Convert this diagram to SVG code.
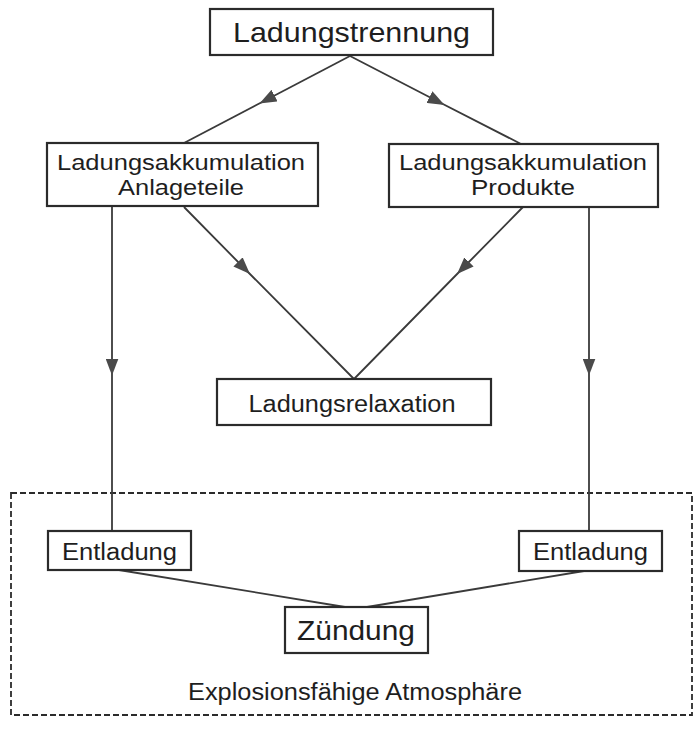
<svg xmlns="http://www.w3.org/2000/svg" width="694" height="730" viewBox="0 0 694 730">
<defs>
<style>
.box{fill:#fff;stroke:#2b2b2b;stroke-width:2.2}
.t{font-family:"Liberation Sans",Arial,sans-serif;fill:#1e1e1e;text-anchor:middle}
.ln{fill:none;stroke:#3a3a3a;stroke-width:1.8}
.dash{fill:none;stroke:#2b2b2b;stroke-width:1.8;stroke-dasharray:6 3}
</style>
<marker id="arr" markerUnits="userSpaceOnUse" viewBox="0 0 17 13" markerWidth="17" markerHeight="13" refX="8.5" refY="6.5" orient="auto">
<path d="M0,0 L17,6.5 L0,13 Z" fill="#4a4a4a"/>
</marker>
</defs>
<rect width="694" height="730" fill="#fff"/>
<rect id="zone" class="dash" x="11" y="493" width="681" height="222"/>
<g id="connectors">
<path class="ln" d="M350,56 L267,99.5 L184,143" marker-mid="url(#arr)"/>
<path class="ln" d="M350,56 L437,101 L521,144" marker-mid="url(#arr)"/>
<path class="ln" d="M112,207 L112,367 L112,531" marker-mid="url(#arr)"/>
<path class="ln" d="M589,207 L589,367 L589,531" marker-mid="url(#arr)"/>
<path class="ln" d="M184,207 L244,268 L354,379" marker-mid="url(#arr)"/>
<path class="ln" d="M523,207 L463,268 L354,379" marker-mid="url(#arr)"/>
<path class="ln" d="M119,570 L345,607"/>
<path class="ln" d="M584,571 L367,607"/>
</g>
<g id="n-trennung">
<rect class="box" x="210" y="9" width="283" height="46"/>
<text class="t" x="351.5" y="42" font-size="27.4" textLength="237" lengthAdjust="spacingAndGlyphs">Ladungstrennung</text>
</g>
<g id="n-anlageteile">
<rect class="box" x="47" y="143" width="271" height="63"/>
<text class="t" x="181" y="170" font-size="22.3" textLength="248" lengthAdjust="spacingAndGlyphs">Ladungsakkumulation</text>
<text class="t" x="181" y="195" font-size="22.3" textLength="126" lengthAdjust="spacingAndGlyphs">Anlageteile</text>
</g>
<g id="n-produkte">
<rect class="box" x="389" y="144" width="269" height="63"/>
<text class="t" x="523" y="170" font-size="22.3" textLength="248" lengthAdjust="spacingAndGlyphs">Ladungsakkumulation</text>
<text class="t" x="523" y="195" font-size="22.3" textLength="104" lengthAdjust="spacingAndGlyphs">Produkte</text>
</g>
<g id="n-relaxation">
<rect class="box" x="217" y="379" width="274" height="46"/>
<text class="t" x="352" y="412" font-size="23" textLength="207" lengthAdjust="spacingAndGlyphs">Ladungsrelaxation</text>
</g>
<g id="n-entladung-l">
<rect class="box" x="48" y="531" width="143" height="39"/>
<text class="t" x="119.5" y="560" font-size="23.5" textLength="115" lengthAdjust="spacingAndGlyphs">Entladung</text>
</g>
<g id="n-entladung-r">
<rect class="box" x="519" y="531" width="143" height="40"/>
<text class="t" x="590.5" y="560" font-size="23.5" textLength="115" lengthAdjust="spacingAndGlyphs">Entladung</text>
</g>
<g id="n-zuendung">
<rect class="box" x="285" y="607" width="143" height="46"/>
<text class="t" x="356" y="640" font-size="28" textLength="118" lengthAdjust="spacingAndGlyphs">Zündung</text>
</g>
<text id="zone-label" class="t" x="355" y="700" font-size="23.5" textLength="334" lengthAdjust="spacingAndGlyphs">Explosionsfähige Atmosphäre</text>
</svg>
